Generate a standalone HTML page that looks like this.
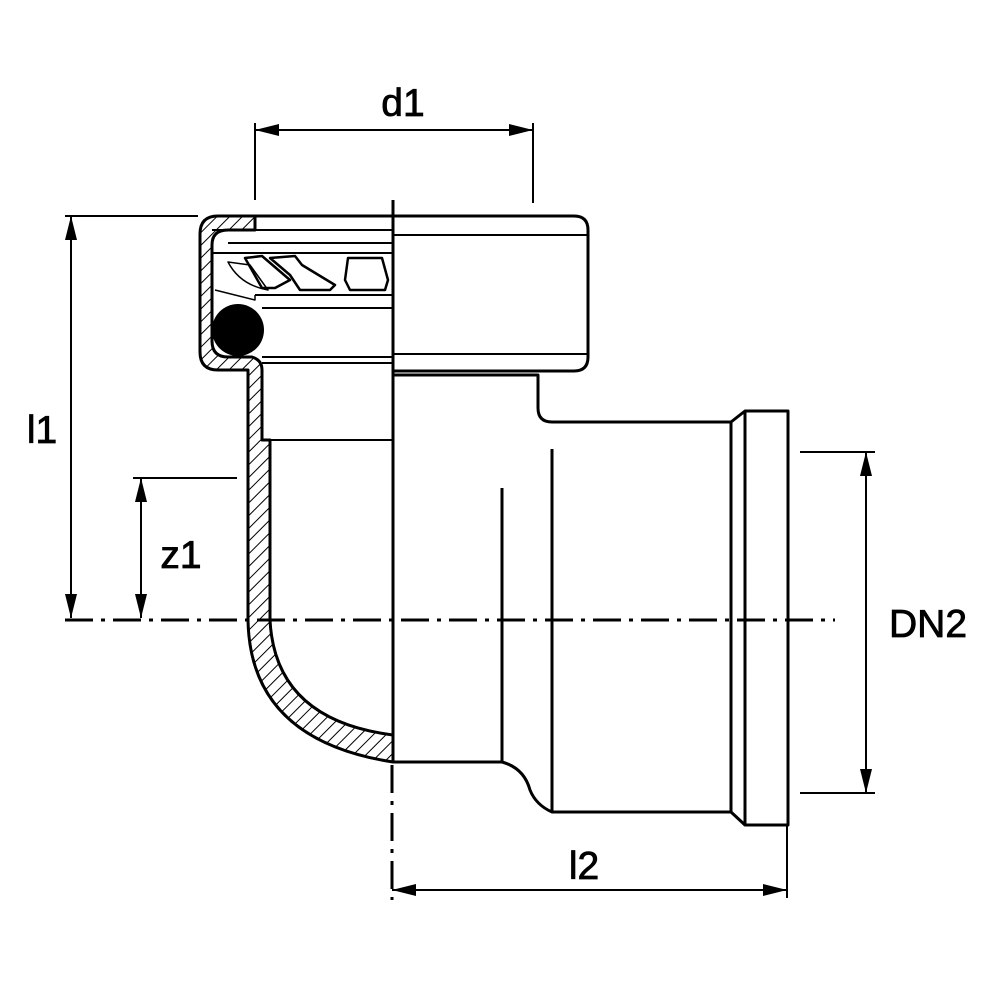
<!DOCTYPE html>
<html><head><style>html,body{margin:0;padding:0;background:#fff}svg{display:block}</style></head>
<body>
<svg width="1000" height="1000" viewBox="0 0 1000 1000" xmlns="http://www.w3.org/2000/svg">
<defs>
<pattern id="h" patternUnits="userSpaceOnUse" width="9" height="9" patternTransform="rotate(45)">
<line x1="0" y1="0" x2="0" y2="9" stroke="#000" stroke-width="2"/>
</pattern>
<marker id="a" markerWidth="24" markerHeight="12" refX="24" refY="6" orient="auto" markerUnits="userSpaceOnUse">
<path d="M0,0 L24,6 L0,12 Z" fill="#000"/>
</marker>
<marker id="b" markerWidth="24" markerHeight="12" refX="0" refY="6" orient="auto" markerUnits="userSpaceOnUse">
<path d="M24,0 L0,6 L24,12 Z" fill="#000"/>
</marker>
</defs>
<g fill="none" stroke="#000" stroke-linejoin="round">
<path d="M393,216 L218,216 Q200,216 200,234 L200,352 Q200,370 218,370 L248,370 L248,620 Q250,740 393,762 L393,735 Q275,720 270,620 L270,440 L262,440 L262,370 Q262,360 252,357 L228,357 Q212,357 212,341 L212,245 Q212,230 228,230 L255,230 L255,216 Z" fill="url(#h)" stroke-width="3"/>
<line x1="228" y1="243" x2="393" y2="243" stroke-width="2"/>
<line x1="212" y1="253" x2="393" y2="253" stroke-width="2"/>
<line x1="212" y1="230" x2="393" y2="230" stroke-width="2"/>
<line x1="255" y1="295" x2="393" y2="295" stroke-width="2"/>
<line x1="262" y1="308" x2="393" y2="308" stroke-width="2"/>
<line x1="262" y1="357" x2="393" y2="357" stroke-width="2"/>
<line x1="262" y1="363" x2="393" y2="363" stroke-width="2"/>
<line x1="262" y1="365" x2="262" y2="440" stroke-width="2"/>
<line x1="262" y1="440" x2="393" y2="440" stroke-width="2"/>
<path d="M215,290 L255,300 L255,295" stroke-width="1.5"/>
<path d="M228,262 Q240,285 268,290 L250,265 Z" stroke-width="1.5"/>
<path d="M245,258 L262,256 L290,280 L275,288 L262,288 Z" stroke-width="2.5"/>
<path d="M270,258 L295,256 L302,265 L335,285 L330,290 L300,290 L290,275 Z" stroke-width="2.5"/>
<path d="M348,258 L382,258 L388,280 L385,290 L350,290 L345,280 Z" stroke-width="2.5"/>
<circle cx="238" cy="330" r="26" fill="#000" stroke="none"/>
<path d="M393,216 L574,216 Q588,216 588,230 L588,357 Q588,371 574,371 L393,371" stroke-width="3"/>
<line x1="393" y1="235" x2="587" y2="235" stroke-width="2"/>
<line x1="393" y1="354" x2="587" y2="354" stroke-width="2"/>
<path d="M393,375 L538,375 L538,408 Q538,422 552,422 L731,422 L745,411 L788,411 L788,825 L745,825 L731,812 L552,812 Q536,805 530,790 Q524,768 502,762 L393,762" stroke-width="3"/>
<line x1="731" y1="422" x2="731" y2="812" stroke-width="3"/>
<line x1="745" y1="411" x2="745" y2="825" stroke-width="3"/>
<line x1="552" y1="449" x2="552" y2="812" stroke-width="3"/>
<line x1="502" y1="488" x2="502" y2="762" stroke-width="3"/>
<line x1="393" y1="200" x2="393" y2="762" stroke-width="3"/>
<line x1="65" y1="620" x2="835" y2="620" stroke-width="3" stroke-dasharray="28,8,4,8"/>
<line x1="392" y1="765" x2="392" y2="900" stroke-width="3" stroke-dasharray="28,8,4,8"/>
<g stroke-width="2">
<line x1="255" y1="123" x2="255" y2="200"/>
<line x1="533" y1="123" x2="533" y2="203"/>
<line x1="255" y1="130" x2="533" y2="130" marker-start="url(#b)" marker-end="url(#a)"/>
<line x1="65" y1="216" x2="198" y2="216"/>
<line x1="71" y1="216" x2="71" y2="618" marker-start="url(#b)" marker-end="url(#a)"/>
<line x1="133" y1="478" x2="237" y2="478"/>
<line x1="141" y1="478" x2="141" y2="618" marker-start="url(#b)" marker-end="url(#a)"/>
<line x1="787" y1="825" x2="787" y2="898"/>
<line x1="392" y1="890" x2="787" y2="890" marker-start="url(#b)" marker-end="url(#a)"/>
<line x1="800" y1="452" x2="875" y2="452"/>
<line x1="800" y1="793" x2="875" y2="793"/>
<line x1="866" y1="452" x2="866" y2="793" marker-start="url(#b)" marker-end="url(#a)"/>
</g>
</g>
<g font-family="Liberation Sans, sans-serif" font-size="39" fill="#000" stroke="#000" stroke-width="0.8" text-anchor="middle">
<text x="403" y="116">d1</text>
<text x="42" y="443">l1</text>
<text x="181" y="568">z1</text>
<text x="584" y="879">l2</text>
<text x="928" y="637">DN2</text>
</g>
</svg>
</body></html>
